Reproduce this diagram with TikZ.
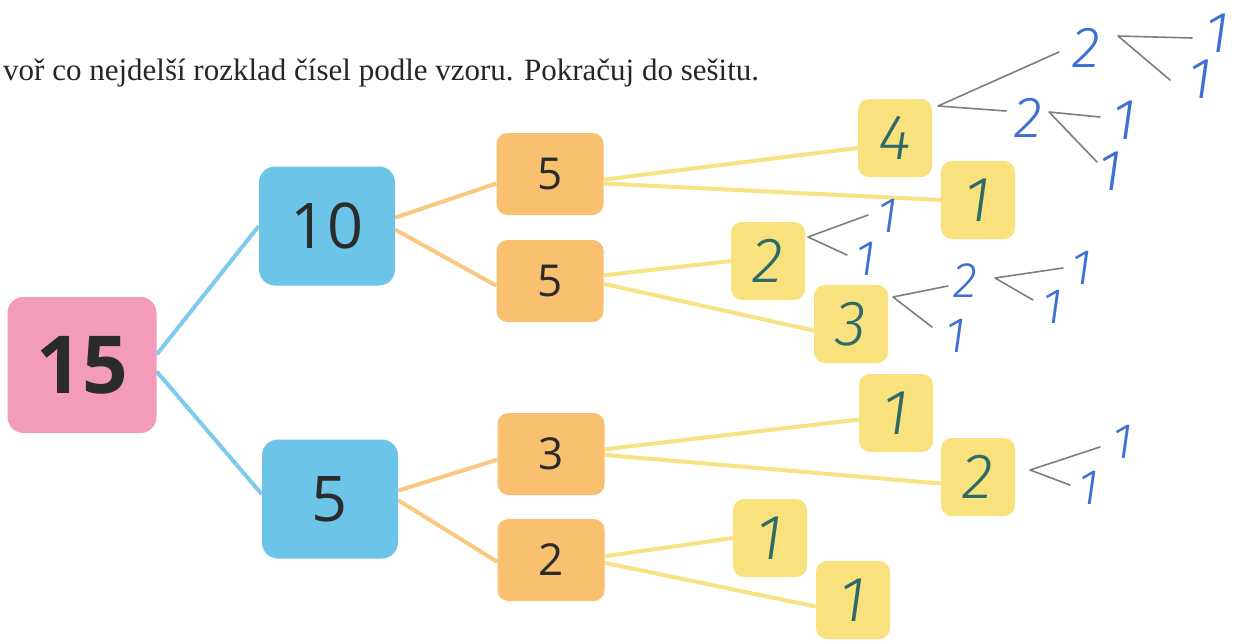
\documentclass[tikz,border=0pt]{standalone}
\usepackage{fontspec}
\usetikzlibrary{backgrounds}
\setmainfont{Liberation Serif}
\newfontfamily\boxfont{Open Sans}
\newfontfamily\handfont{Fira Sans Light}
\definecolor{pinkc}{HTML}{F29CBA}
\definecolor{bluec}{HTML}{6CC4E8}
\definecolor{orangec}{HTML}{F9C070}
\definecolor{yellowc}{HTML}{F9E27E}
\definecolor{blinec}{HTML}{7FCBEA}
\definecolor{olinec}{HTML}{F9C981}
\definecolor{ylinec}{HTML}{F8E283}
\definecolor{txtc}{HTML}{2B2B2B}
\definecolor{tealc}{HTML}{2F6B66}
\definecolor{handblue}{HTML}{3C70D4}
\definecolor{pencilc}{HTML}{7E7E7E}
\begin{document}
\begin{tikzpicture}[x=1pt,y=-1pt,
  pinkbox/.style={fill=pinkc, rounded corners=16pt, minimum width=149pt, minimum height=136pt, inner sep=0pt, text=txtc, font=\boxfont\bfseries\fontsize{80}{80}\selectfont},
  bluebox/.style={fill=bluec, rounded corners=16pt, minimum width=136pt, minimum height=119pt, inner sep=0pt, text=txtc, font=\boxfont\fontsize{63}{63}\selectfont},
  orangebox/.style={fill=orangec, rounded corners=11pt, minimum width=107pt, minimum height=82pt, inner sep=0pt, text=txtc, font=\boxfont\fontsize{44}{44}\selectfont},
  yellowbox/.style={fill=yellowc, rounded corners=11pt, minimum width=74pt, minimum height=78pt, inner sep=0pt, text=tealc, font=\handfont\itshape\fontsize{64}{64}\selectfont},
  hand/.style={text=handblue, inner sep=0pt, font=\handfont\itshape\fontsize{58}{58}\selectfont},
  smallhand/.style={hand, font=\handfont\itshape\fontsize{50}{50}\selectfont},
  bline/.style={draw=blinec, line width=4pt},
  oline/.style={draw=olinec, line width=4pt},
  yline/.style={draw=ylinec, line width=4pt},
  pencil/.style={draw=pencilc, line width=1.6pt, line cap=round, line join=round}
]
\useasboundingbox (0,0) rectangle (1236,640);

% header
\node[anchor=base west, inner sep=0pt, font=\fontsize{31}{31}\selectfont, text=black!85] (title) at (3,80) {voř co nejdelší rozklad čísel podle vzoru. Pokračuj do sešitu.};

% boxes
\node[pinkbox] (p15) at (82,365) {15};
\node[bluebox] (b10) at (327,226) {10};
\node[bluebox] (b5) at (330,499) {5};
\node[orangebox] (o1) at (550,174) {5};
\node[orangebox] (o2) at (550,281) {5};
\node[orangebox] (o3) at (551,454) {3};
\node[orangebox] (o4) at (551,560) {2};
\node[yellowbox] (y1) at (895,138) {4};
\node[yellowbox] (y2) at (978,200) {1};
\node[yellowbox] (y3) at (768,261) {2};
\node[yellowbox] (y4) at (851,324) {3};
\node[yellowbox] (y5) at (896,413) {1};
\node[yellowbox] (y6) at (978,477) {2};
\node[yellowbox] (y7) at (770,538) {1};
\node[yellowbox] (y8) at (853,600) {1};

% printed connectors (behind the boxes)
\begin{scope}[on background layer]
\fill[white] (0,0) rectangle (1236,640);
\draw[bline] (p15.8) -- (b10.west);
\draw[bline] (p15.-5) -- (b5.176);
\draw[oline] (b10.7) -- (o1.190);
\draw[oline] (b10.-3) -- (o2.185);
\draw[oline] (b5.7) -- (o3.186);
\draw[oline] (b5.-1) -- (o4.182);
\draw[yline] (o1.-6) -- (y1.195);
\draw[yline] (o1.-10) -- (y2.west);
\draw[yline] (o2.6) -- (y3.west);
\draw[yline] (o2.-3) -- (y4.190);
\draw[yline] (o3.5) -- (y5.190);
\draw[yline] (o3.-1) -- (y6.190);
\draw[yline] (o4.4) -- (y7.west);
\draw[yline] (o4.-3) -- (y8.190);
\end{scope}

% handwritten digits
\node[hand] (h1) at (1086,48) {2};
\node[hand] (h2) at (1217,33) {1};
\node[hand] (h3) at (1200,79) {1};
\node[hand] (h4) at (1028,118) {2};
\node[hand] (h5) at (1124,120) {1};
\node[hand] (h6) at (1110,171) {1};
\node[smallhand] (h7) at (888,216) {1};
\node[smallhand] (h8) at (866,259) {1};
\node[smallhand] (h9) at (965,281) {2};
\node[smallhand] (h10) at (956,336) {1};
\node[smallhand] (h11) at (1082,268) {1};
\node[smallhand] (h12) at (1053,307) {1};
\node[smallhand] (h13) at (1123,442) {1};
\node[smallhand] (h14) at (1089,488) {1};

% pencil forks
\coordinate (v1) at (938,106); \coordinate (v1a) at (1059,52); \coordinate (v1b) at (1006,111);
\coordinate (v2) at (1118,36); \coordinate (v2a) at (1192,38); \coordinate (v2b) at (1170,80);
\coordinate (v3) at (1049,112); \coordinate (v3a) at (1100,117); \coordinate (v3b) at (1097,162);
\coordinate (v4) at (808,237); \coordinate (v4a) at (868,215); \coordinate (v4b) at (847,255);
\coordinate (v5) at (893,297); \coordinate (v5a) at (948,286); \coordinate (v5b) at (932,327);
\coordinate (v6) at (995,278); \coordinate (v6a) at (1063,268); \coordinate (v6b) at (1033,300);
\coordinate (v7) at (1030,470); \coordinate (v7a) at (1100,447); \coordinate (v7b) at (1070,485);
\draw[pencil] (v1a) -- (v1) -- (v1b);
\draw[pencil] (v2a) -- (v2) -- (v2b);
\draw[pencil] (v3a) -- (v3) -- (v3b);
\draw[pencil] (v4a) -- (v4) -- (v4b);
\draw[pencil] (v5a) -- (v5) -- (v5b);
\draw[pencil] (v6a) -- (v6) -- (v6b);
\draw[pencil] (v7a) -- (v7) -- (v7b);
\end{tikzpicture}
\end{document}
